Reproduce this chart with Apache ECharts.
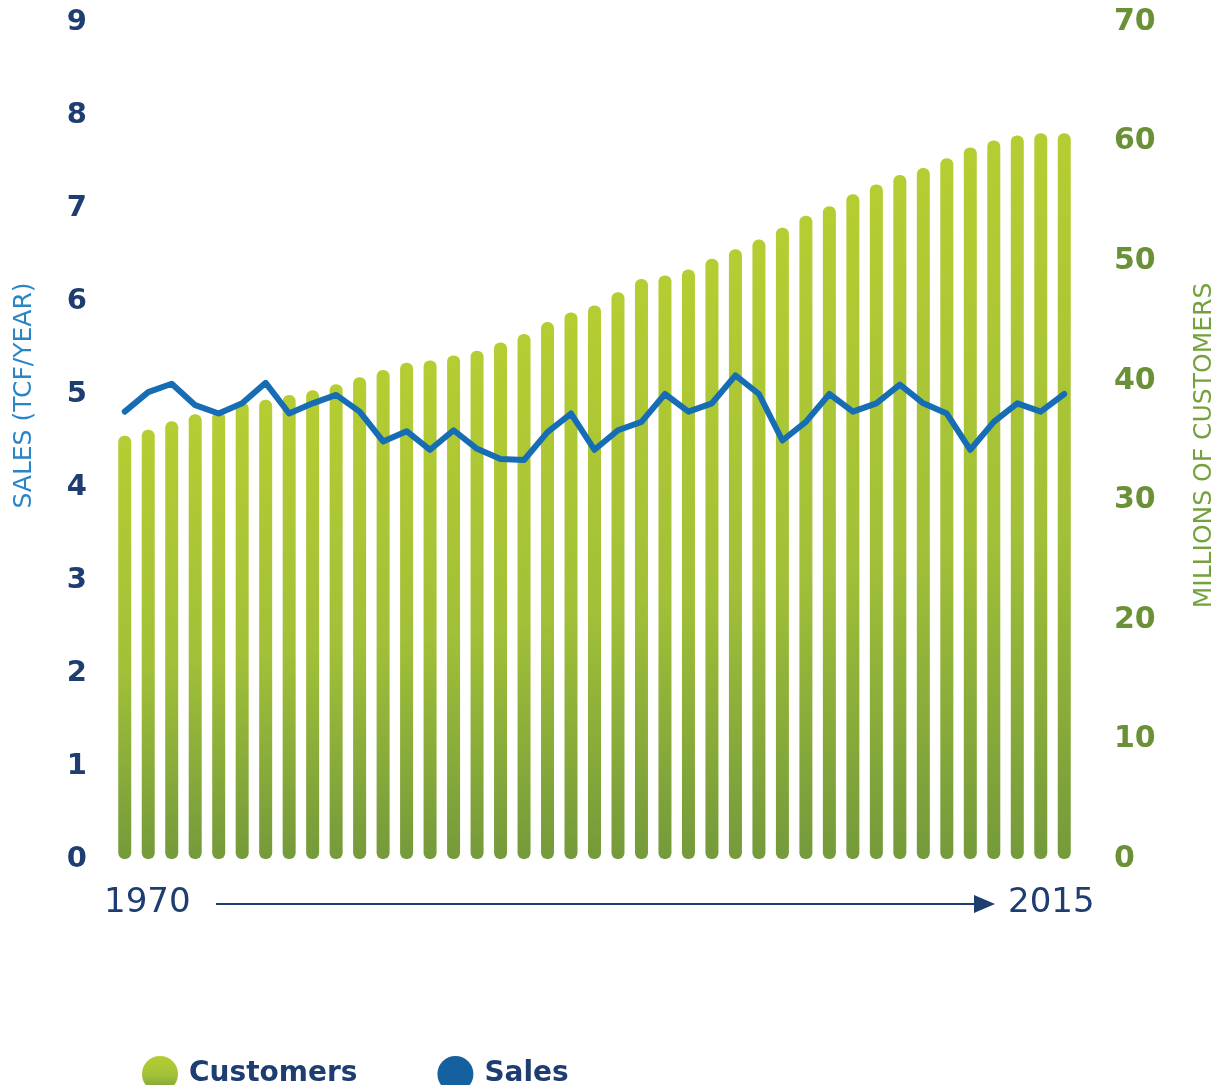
<!DOCTYPE html>
<html>
<head>
<meta charset="utf-8">
<script src="https://cdn.jsdelivr.net/npm/echarts@6/dist/echarts.min.js"></script>
<style>
  html, body { margin: 0; padding: 0; background: #fff; }
  #chart { width: 1225px; height: 1085px; }
</style>
</head>
<body>
<div id="chart"></div>
<script>
// 41 bars between 1970 and 2015
var categories = []
for (var i = 0; i < 41; i++) categories.push('p' + i)

var customers = [
  35.4, 35.9, 36.6, 37.2, 37.4, 38.2, 38.4, 38.8, 39.2, 39.7,
  40.3, 40.9, 41.5, 41.7, 42.1, 42.5, 43.2, 43.9, 44.9, 45.7,
  46.3, 47.4, 48.5, 48.8, 49.3, 50.2, 51.0, 51.8, 52.8, 53.8,
  54.6, 55.6, 56.4, 57.2, 57.8, 58.6, 59.5, 60.1, 60.5, 60.7,
  60.7
]

var sales = [
  4.81, 5.02, 5.11, 4.88, 4.79, 4.90, 5.12, 4.79, 4.90, 4.99,
  4.81, 4.49, 4.60, 4.40, 4.61, 4.41, 4.30, 4.29, 4.59, 4.79,
  4.40, 4.61, 4.70, 5.00, 4.81, 4.90, 5.20, 5.00, 4.50, 4.70,
  5.00, 4.81, 4.90, 5.10, 4.90, 4.79, 4.40, 4.70, 4.90, 4.81,
  5.00
]

var startYear = '1970'
var endYear = '2015'

var navy = '#1e3d70'
var olive = '#6b9136'
var font = 'DejaVu Sans'

var chart = echarts.init(document.getElementById('chart'))

chart.setOption({
  backgroundColor: '#fff',
  animation: false,
  textStyle: { fontFamily: font },
  grid: { left: 113, right: 143, top: 22, bottom: 226 },
  legend: {
    left: 137,
    top: 1051,
    itemWidth: 36,
    itemHeight: 36,
    itemGap: 80,
    textStyle: { color: navy, fontSize: 28, fontWeight: 'bold', fontFamily: font, padding: [0, 0, 0, 6] },
    data: [
      { name: 'Customers', icon: 'circle' },
      { name: 'Sales', icon: 'circle' }
    ]
  },
  xAxis: {
    type: 'category',
    data: categories,
    axisLine: { show: false },
    axisTick: { show: false },
    axisLabel: { show: false }
  },
  yAxis: [{
    type: 'value',
    min: 0,
    max: 9,
    interval: 1,
    name: 'SALES (TCF/YEAR)',
    nameLocation: 'middle',
    nameRotate: 90,
    nameGap: 76,
    nameTextStyle: { color: '#2a85c7', fontSize: 25, fontFamily: font, padding: [0, 0, 0, 90] },
    splitLine: { show: false },
    axisLine: { show: false },
    axisTick: { show: false },
    axisLabel: { color: navy, fontSize: 29, fontWeight: 'bold', margin: 26 }
  }, {
    type: 'value',
    min: 0,
    max: 70,
    interval: 10,
    name: 'MILLIONS OF CUSTOMERS',
    nameLocation: 'middle',
    nameRotate: 90,
    nameGap: 116,
    nameTextStyle: { color: '#74a13c', fontSize: 25, fontFamily: font, padding: [0, 0, 0, -10] },
    splitLine: { show: false },
    axisLine: { show: false },
    axisTick: { show: false },
    axisLabel: { color: olive, fontSize: 30, fontWeight: 'bold', margin: 38 }
  }],
  graphic: [
    {
      type: 'text', left: 104, top: 886,
      style: { text: startYear, fill: navy, font: '34px ' + font }
    },
    {
      type: 'line',
      shape: { x1: 216, y1: 904, x2: 980, y2: 904 },
      style: { stroke: navy, lineWidth: 2 }
    },
    {
      type: 'polygon',
      shape: { points: [[974, 895], [995, 904], [974, 913]] },
      style: { fill: navy }
    },
    {
      type: 'text', left: 1008, top: 886,
      style: { text: endYear, fill: navy, font: '34px ' + font }
    }
  ],
  series: [{
    name: 'Customers',
    type: 'bar',
    yAxisIndex: 1,
    barWidth: 13,
    itemStyle: {
      borderRadius: 6,
      color: new echarts.graphic.LinearGradient(0, 0, 0, 1, [
        { offset: 0, color: '#b6cd32' },
        { offset: 0.55, color: '#a2c038' },
        { offset: 1, color: '#749a3b' }
      ])
    },
    data: customers
  }, {
    name: 'Sales',
    type: 'line',
    yAxisIndex: 0,
    symbol: 'none',
    z: 3,
    itemStyle: { color: '#15609f' },
    lineStyle: { color: '#176db3', width: 6, cap: 'round', join: 'round' },
    data: sales
  }]
})
</script>
</body>
</html>
